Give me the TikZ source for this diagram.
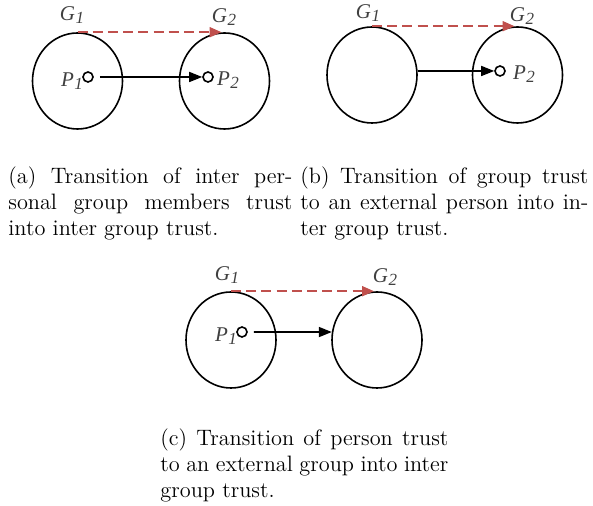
\documentclass[tikz,border=0pt]{standalone}
\usepackage{fontspec}
\newfontfamily\lblfont{Liberation Serif}
\usetikzlibrary{shapes.geometric,arrows.meta}
\definecolor{redc}{RGB}{192,80,77}
\newcommand\glab[2]{{\lblfont\itshape #1\kern0.3pt\raisebox{-0.35ex}{\fontsize{8.5}{9}\selectfont #2}}}
\begin{document}
\begin{tikzpicture}[x=0.5pt,y=-0.5pt,
  grp/.style={draw, ellipse, line width=0.8pt, minimum width=45pt, minimum height=48pt, inner sep=0pt},
  pers/.style={draw, circle, line width=0.8pt, minimum size=5pt, inner sep=0pt},
  lab/.style={text=black!75, font=\fontsize{10.5}{12}\selectfont, inner sep=0pt},
  dasharrow/.style={draw=redc, line width=1pt, dash pattern=on 5pt off 2.6pt, -{Triangle[length=6pt,width=5pt,fill=redc]}, shorten >=1.5pt},
  solidarrow/.style={line width=0.8pt, -{Triangle[length=6.5pt,width=5pt]}},
  captext/.style={align=justify, inner sep=0pt, anchor=north west, font=\fontsize{11.15}{13}\selectfont}]
\useasboundingbox (0,0) rectangle (593,506);
% (a)
\node[grp] (ga1) at (77.5,81) {};
\node[grp] (ga2) at (224.5,81) {};
\node[pers] (pa1) at (88,77) {};
\node[pers] (pa2) at (208,77) {};
\node[lab] (la1) at (72,15) {\glab{G}{1}};
\node[lab] (la2) at (224,17) {\glab{G}{2}};
\node[lab] (lpa1) at (72,81) {\glab{P}{1}};
\node[lab] (lpa2) at (228,80) {\glab{P}{2}};
\draw[dasharrow] (ga1.north) -- (ga2.north);
\draw[solidarrow, shorten <=3pt] (pa1) -- (pa2);
\node[captext, text width=142pt] (capa) at (8,166) {(a) Transition of inter per-\linebreak sonal group members trust\linebreak into inter group trust.};
% (b)
\node[grp] (gb1) at (372,75) {};
\node[grp] (gb2) at (517.5,75) {};
\node[pers] (pb2) at (500,71) {};
\node[lab] (lb1) at (368,13) {\glab{G}{1}};
\node[lab] (lb2) at (522,16) {\glab{G}{2}};
\node[lab] (lpb2) at (524,74) {\glab{P}{2}};
\draw[dasharrow] (gb1.north) -- (gb2.north);
\draw[solidarrow] (gb1.east |- pb2) -- (pb2);
\node[captext, text width=144pt] (capb) at (300,166) {(b) Transition of group trust\linebreak to an external person into in-\linebreak ter group trust.};
% (c)
\node[grp] (gc1) at (231,340) {};
\node[grp] (gc2) at (377,340) {};
\node[pers] (pc1) at (242,332) {};
\node[lab] (lc1) at (227,275) {\glab{G}{1}};
\node[lab] (lc2) at (385,277) {\glab{G}{2}};
\node[lab] (lpc1) at (226,336) {\glab{P}{1}};
\draw[dasharrow] (gc1.north) -- (gc2.north);
\draw[solidarrow, shorten <=3pt] (pc1) -- (gc2.170);
\node[captext, text width=144pt] (capc) at (160,428) {(c) Transition of person trust\linebreak to an external group into inter\linebreak group trust.};
\end{tikzpicture}
\end{document}
